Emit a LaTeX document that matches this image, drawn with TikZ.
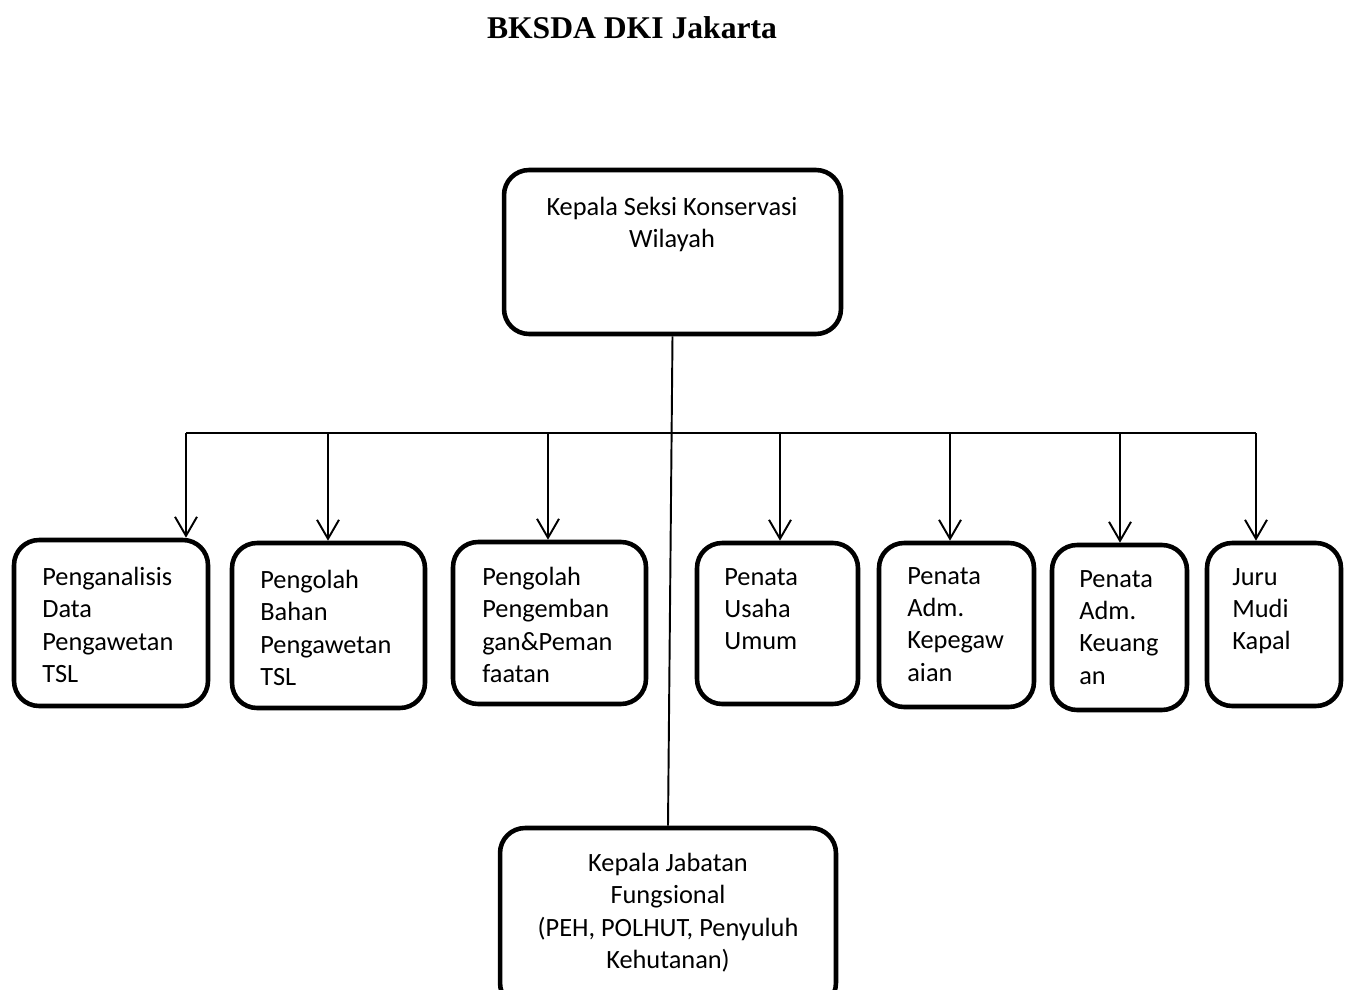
\documentclass[tikz,border=0pt]{standalone}
\usepackage{fontspec}
\setmainfont{Carlito}
\newfontfamily\titlefont{Liberation Serif}
\usetikzlibrary{arrows.meta}

\tikzset{
  unit/.style={draw, line width=2.6pt, rounded corners=0.5cm, inner sep=0pt},
  unittext/.style={anchor=north west, inner sep=0pt, align=left,
    font=\fontsize{15pt}{18.4pt}\selectfont},
  link/.style={line width=1.1pt},
  arrowdown/.style={link, -{Straight Barb[length=0.38cm,width=0.44cm]}}
}

\begin{document}
\begin{tikzpicture}[x=0.02cm, y=-0.02cm]
\useasboundingbox (0,0) rectangle (1353,990);

\node[font=\titlefont\fontsize{18pt}{22pt}\selectfont\bfseries] (title) at (632,28) {BKSDA DKI Jakarta};

\node[unit, minimum width=6.74cm, minimum height=3.28cm] (kasi) at (672.5,252) {};
\node[unittext, anchor=north, align=center] (tkasi) at (672,197) {Kepala Seksi Konservasi\\Wilayah};

\node[unit, minimum width=3.88cm, minimum height=3.32cm] (b1) at (111,623) {};
\node[unit, minimum width=3.86cm, minimum height=3.30cm] (b2) at (328.5,625.5) {};
\node[unit, minimum width=3.86cm, minimum height=3.24cm] (b3) at (549.5,623) {};
\node[unit, minimum width=3.22cm, minimum height=3.22cm] (b4) at (777.5,623.5) {};
\node[unit, minimum width=3.10cm, minimum height=3.28cm] (b5) at (956.5,625) {};
\node[unit, minimum width=2.70cm, minimum height=3.30cm] (b6) at (1119.5,627.5) {};
\node[unit, minimum width=2.68cm, minimum height=3.26cm] (b7) at (1274,624.5) {};

\node[unittext] (t1) at (42,567) {Penganalisis\\Data\\Pengawetan\\TSL};
\node[unittext] (t2) at (260,570) {Pengolah\\Bahan\\Pengawetan\\TSL};
\node[unittext] (t3) at (482,567) {Pengolah\\Pengemban\\gan\&Peman\\faatan};
\node[unittext] (t4) at (724,568) {Penata\\Usaha\\Umum};
\node[unittext] (t5) at (907,567) {Penata\\Adm.\\Kepegaw\\aian};
\node[unittext] (t6) at (1079,570) {Penata\\Adm.\\Keuang\\an};
\node[unittext] (t7) at (1232,568) {Juru\\Mudi\\Kapal};

\node[unit, minimum width=6.72cm, minimum height=3.6cm] (kjf) at (668,918) {};
\node[unittext, anchor=north, align=center] (tkjf) at (668,853) {Kepala Jabatan\\Fungsional\\(PEH, POLHUT, Penyuluh\\Kehutanan)};

\draw[link] (kasi.south) -- (kjf.north);

\coordinate (busL) at (186,433);
\coordinate (busR) at (1256,433);
\draw[link] (busL) -- (busR);
\foreach \x/\b in {186/b1, 328/b2, 548/b3, 780/b4, 950/b5, 1120/b6, 1256/b7}{
  \coordinate (s\b) at (\x,433);
  \draw[arrowdown] (s\b) -- (s\b |- \b.north);
}
\end{tikzpicture}
\end{document}
